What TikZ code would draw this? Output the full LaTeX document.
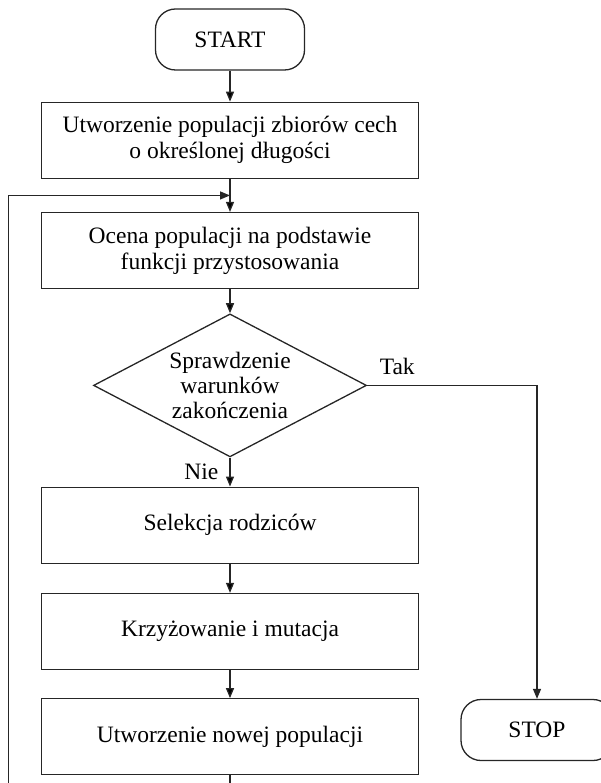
\documentclass[tikz,border=0pt]{standalone}
\usepackage{fontspec}
\setmainfont{Liberation Serif}
\usepackage{tikz}
\usetikzlibrary{positioning,shapes.geometric,arrows.meta}

\begin{document}
\begin{tikzpicture}[
        x=1pt, y=1pt,
        terminal/.style={
                rectangle,
                rounded corners=20pt,
                draw=black!85,
                line width=1.3pt,
                minimum width=149pt,
                minimum height=61pt,
                font=\fontsize{23.5}{26}\selectfont
            },
        process/.style={
                rectangle,
                draw=black!85,
                line width=1.3pt,
                minimum width=377pt,
                minimum height=76pt,
                align=center,
                font=\fontsize{23.5}{26}\selectfont
            },
        decision/.style={
                diamond,
                aspect=1.9,
                inner sep=0pt,
                draw=black!85,
                line width=1.3pt,
                minimum width=273pt,
                minimum height=143pt,
                align=center,
                font=\fontsize{23.5}{25}\selectfont
            },
        answer/.style = {font=\fontsize{23.5}{26}\selectfont, inner sep=3pt},
        flow/.style = {draw=black!85, line width=1.3pt},
        >= {Triangle[length=10pt,width=8pt]}
    ]
    \path[use as bounding box, clip] (0,0) rectangle (601,-783);

    \node[terminal] (start)  at (230,-39.5)         {START};
    \node[process]  (init)   [below=31pt of start]  {Utworzenie populacji zbiorów cech\\o określonej długości};
    \node[process]  (eval)   [below=33pt of init]   {Ocena populacji na podstawie\\funkcji przystosowania};
    \node[decision] (check)  [below=24pt of eval]   {Sprawdzenie\\warunków\\zakończenia};
    \node[process]  (select) [below=29pt of check]  {Selekcja rodziców};
    \node[process]  (cross)  [below=29pt of select] {Krzyżowanie i mutacja};
    \node[process]  (newpop) [below=28pt of cross]  {Utworzenie nowej populacji};
    \node[terminal, minimum width=152pt] (stop) at (537,-730) {STOP};

    \coordinate[below=16.5pt of init] (merge);
    \coordinate (back) at (8.5,-810);

    \path[->, flow] (start) edge (init);
    \path[->, flow] (init) edge (eval);
    \path[->, flow] (eval) edge (check);
    \path[->, flow] (check) edge node[answer, left=8pt] {Nie} (select);
    \path[->, flow] (select) edge (cross);
    \path[->, flow] (cross) edge (newpop);
    \draw[->, flow] (check.east) node[answer, above right=7pt and 9pt] {Tak} -| (stop.north);
    \draw[->, flow] (newpop.south) -- (newpop.south |- back) -- (back) |- (merge);
\end{tikzpicture}
\end{document}
